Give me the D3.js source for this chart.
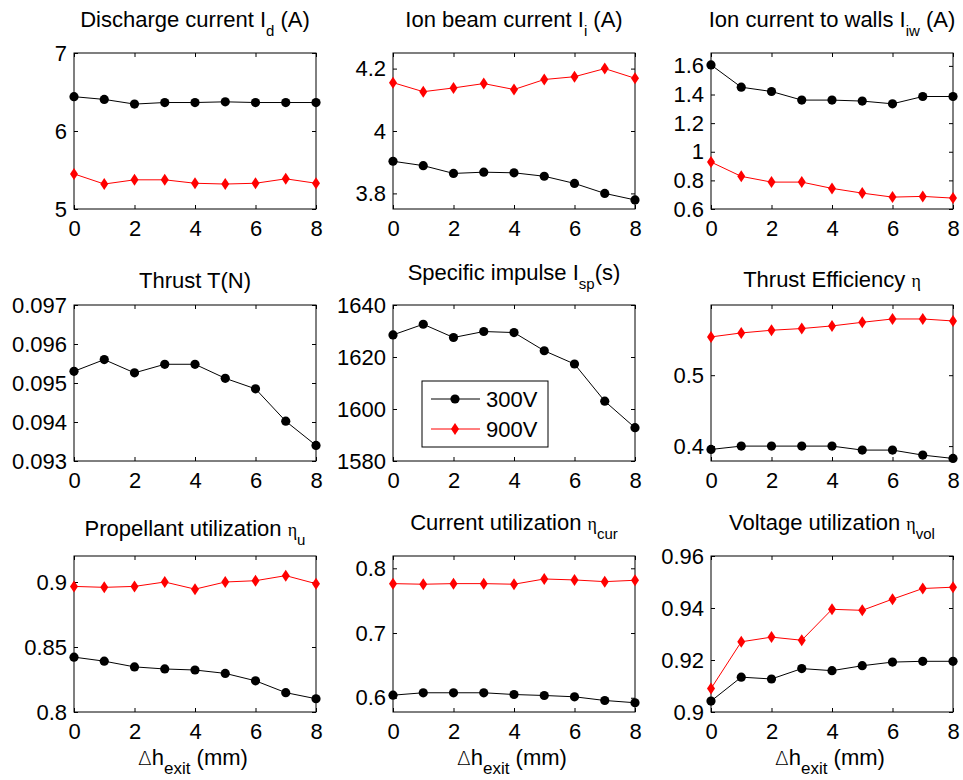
<!DOCTYPE html>
<html>
<head>
<meta charset="utf-8">
<script src="https://cdn.jsdelivr.net/npm/d3@7"></script>
<style>
  body { margin: 0; background: #fff; }
  svg text { font-family: "Liberation Sans", Arial, sans-serif; fill: #000; }
</style>
</head>
<body>
<svg id="chart" width="963" height="780"></svg>
<script>
// Exit-height offset (mm) shared by every panel
const dh = [0, 1, 2, 3, 4, 5, 6, 7, 8];
const xTicks = [0, 2, 4, 6, 8];
const seriesNames = ["300V", "900V"];

const dischargeCurrent300 = [6.44, 6.405, 6.345, 6.365, 6.365, 6.374, 6.365, 6.365, 6.365];
const dischargeCurrent900 = [5.45, 5.32, 5.374, 5.374, 5.33, 5.32, 5.33, 5.387, 5.33];
const dischargeTicks = [5, 6, 7];

const beamCurrent300 = [3.903, 3.889, 3.864, 3.868, 3.866, 3.855, 3.832, 3.800, 3.779];
const beamCurrent900 = [4.155, 4.126, 4.138, 4.152, 4.133, 4.165, 4.174, 4.200, 4.169];
const beamTicks = [3.8, 4, 4.2];

const wallCurrent300 = [1.607, 1.451, 1.421, 1.361, 1.361, 1.354, 1.335, 1.386, 1.386];
const wallCurrent900 = [0.928, 0.828, 0.788, 0.788, 0.744, 0.711, 0.683, 0.688, 0.676];
const wallTicks = [0.6, 0.8, 1, 1.2, 1.4, 1.6];

const thrust300 = [0.09530, 0.09560, 0.09526, 0.09548, 0.09548, 0.09512, 0.09485, 0.09402, 0.09340];
const thrustTicks = [0.093, 0.094, 0.095, 0.096, 0.097];

const isp300 = [1628.5, 1632.6, 1627.5, 1629.8, 1629.4, 1622.4, 1617.3, 1603.0, 1592.8];
const ispTicks = [1580, 1600, 1620, 1640];

const efficiency300 = [0.3953, 0.400, 0.400, 0.400, 0.400, 0.3944, 0.3944, 0.3873, 0.3826];
const efficiency900 = [0.554, 0.5596, 0.5634, 0.5658, 0.5695, 0.5746, 0.5793, 0.5793, 0.5765];
const efficiencyTicks = [0.4, 0.5];

const propellant300 = [0.8422, 0.8391, 0.8347, 0.8331, 0.8323, 0.8297, 0.8240, 0.8149, 0.8102];
const propellant900 = [0.8966, 0.8959, 0.8966, 0.900, 0.8945, 0.900, 0.901, 0.9049, 0.8987];
const propellantTicks = [0.8, 0.85, 0.9];

const currentUtil300 = [0.604, 0.6077, 0.6077, 0.6077, 0.605, 0.6035, 0.6015, 0.5958, 0.5923];
const currentUtil900 = [0.7763, 0.7754, 0.7763, 0.7763, 0.7754, 0.7835, 0.782, 0.7794, 0.7815];
const currentUtilTicks = [0.6, 0.7, 0.8];

const voltageUtil300 = [0.9042, 0.9134, 0.9127, 0.9167, 0.9159, 0.9178, 0.9192, 0.9195, 0.9195];
const voltageUtil900 = [0.909, 0.927, 0.9288, 0.9276, 0.9395, 0.9391, 0.9434, 0.9475, 0.948];
const voltageUtilTicks = [0.9, 0.92, 0.94, 0.96];

// Panel definitions: title pieces, y range, data
const panels = [
  { title: [["Discharge current I"], ["d", "sub"], [" (A)"]], yDomain: [5, 7], ticks: dischargeTicks, s300: dischargeCurrent300, s900: dischargeCurrent900 },
  { title: [["Ion beam current I"], ["i", "sub"], [" (A)"]], yDomain: [3.75, 4.25], ticks: beamTicks, s300: beamCurrent300, s900: beamCurrent900 },
  { title: [["Ion current to walls I"], ["iw", "sub"], [" (A)"]], yDomain: [0.6, 1.69], ticks: wallTicks, s300: wallCurrent300, s900: wallCurrent900 },
  { title: [["Thrust T(N)"]], yDomain: [0.093, 0.097], ticks: thrustTicks, s300: thrust300, s900: null },
  { title: [["Specific impulse I"], ["sp", "sub"], ["(s)"]], yDomain: [1580, 1640], ticks: ispTicks, s300: isp300, s900: null, legend: true },
  { title: [["Thrust Efficiency "], ["\u03b7", "greek"]], yDomain: [0.379, 0.599], ticks: efficiencyTicks, s300: efficiency300, s900: efficiency900 },
  { title: [["Propellant utilization "], ["\u03b7", "greek"], ["u", "sub"]], yDomain: [0.8, 0.92], ticks: propellantTicks, s300: propellant300, s900: propellant900, xLabel: true },
  { title: [["Current utilization "], ["\u03b7", "greek"], ["cur", "sub"]], yDomain: [0.578, 0.819], ticks: currentUtilTicks, s300: currentUtil300, s900: currentUtil900, xLabel: true },
  { title: [["Voltage utilization "], ["\u03b7", "greek"], ["vol", "sub"]], yDomain: [0.9, 0.96], ticks: voltageUtilTicks, s300: voltageUtil300, s900: voltageUtil900, xLabel: true }
];

// Grid geometry
const colLeft = [74, 393, 711];
const rowTop = [53, 305, 556];
const plotW = 242, plotH = 156;
const titleGap = [26.5, 26, 26.5, 17.5, 25, 18, 20.5, 26, 26];
const fontSize = 22;

const svg = d3.select("#chart");

function richText(textSel, parts, subSize) {
  let shift = 0;
  parts.forEach(([txt, kind]) => {
    const t = textSel.append("tspan").text(txt);
    let target = 0;
    if (kind === "sub") { t.attr("font-size", subSize); target = 9; }
    else if (kind === "greek") { t.attr("font-size", 18).attr("font-family", "'Liberation Serif', serif"); }
    else if (kind === "delta") { t.attr("font-size", 20).attr("font-family", "'DejaVu Sans', sans-serif").attr("font-weight", 200); }
    if (target !== shift) { t.attr("dy", target - shift); shift = target; }
  });
}

const black = "#000", red = "#ff0000";
const diamond = "M0,-6L4,0L0,6L-4,0Z";

panels.forEach((p, i) => {
  const r = Math.floor(i / 3), c = i % 3;
  const g = svg.append("g").attr("transform", `translate(${colLeft[c]},${rowTop[r]})`);

  const x = d3.scaleLinear().domain([0, 8]).range([0, plotW]);
  const y = d3.scaleLinear().domain(p.yDomain).range([plotH, 0]);

  // frame
  g.append("rect").attr("width", plotW).attr("height", plotH)
    .attr("fill", "#fff").attr("stroke", black).attr("stroke-width", 1);

  const fmt = d3.format("~g");
  const axB = g.append("g").attr("transform", `translate(0,${plotH})`)
    .call(d3.axisBottom(x).tickValues(xTicks).tickFormat(fmt).tickSizeInner(-4).tickSizeOuter(0).tickPadding(11));
  const axT = g.append("g")
    .call(d3.axisTop(x).tickValues(xTicks).tickFormat("").tickSizeInner(-4).tickSizeOuter(0));
  const axL = g.append("g")
    .call(d3.axisLeft(y).tickValues(p.ticks).tickFormat(fmt).tickSizeInner(-4).tickSizeOuter(0).tickPadding(7));
  const axR = g.append("g").attr("transform", `translate(${plotW},0)`)
    .call(d3.axisRight(y).tickValues(p.ticks).tickFormat("").tickSizeInner(-4).tickSizeOuter(0));
  [axB, axT, axL, axR].forEach(a => {
    a.select(".domain").remove();
    a.selectAll("line").attr("stroke", black);
    a.selectAll("text").attr("font-size", fontSize).attr("font-family", null).attr("fill", black);
  });

  const line = d3.line().x((d, k) => x(dh[k])).y(d => y(d));
  const drawSeries = (vals, color, marker) => {
    if (!vals) return;
    g.append("path").datum(vals).attr("d", line)
      .attr("fill", "none").attr("stroke", color).attr("stroke-width", 1);
    const m = g.append("g").selectAll("g").data(vals).join("g")
      .attr("transform", (d, k) => `translate(${x(dh[k])},${y(d)})`);
    if (marker === "circle") m.append("circle").attr("r", 4.6).attr("fill", color);
    else m.append("path").attr("d", diamond).attr("fill", color);
  };
  drawSeries(p.s300, black, "circle");
  drawSeries(p.s900, red, "diamond");

  // title
  const title = g.append("text").attr("x", plotW / 2).attr("y", -titleGap[i])
    .attr("text-anchor", "middle").attr("font-size", fontSize);
  richText(title, p.title, 15);

  if (p.xLabel) {
    const xl = g.append("text").attr("x", plotW / 2 - 2).attr("y", plotH + 53)
      .attr("text-anchor", "middle").attr("font-size", fontSize);
    richText(xl, [["\u0394", "delta"], ["h"], ["exit", "sub"], [" (mm)"]], 17);
  }

  if (p.legend) {
    const lg = g.append("g").attr("transform", "translate(29,76)");
    lg.append("rect").attr("width", 126).attr("height", 66)
      .attr("fill", "#fff").attr("stroke", black).attr("stroke-width", 1);
    const entries = [
      { name: seriesNames[0], color: black, marker: "circle", y: 18 },
      { name: seriesNames[1], color: red, marker: "diamond", y: 48 }
    ];
    entries.forEach(e => {
      lg.append("line").attr("x1", 9).attr("x2", 58).attr("y1", e.y).attr("y2", e.y)
        .attr("stroke", e.color).attr("stroke-width", 1);
      if (e.marker === "circle") lg.append("circle").attr("cx", 33).attr("cy", e.y).attr("r", 4.6).attr("fill", e.color);
      else lg.append("path").attr("d", diamond).attr("transform", `translate(33,${e.y})`).attr("fill", e.color);
      lg.append("text").attr("x", 64).attr("y", e.y).attr("dy", "0.35em")
        .attr("font-size", fontSize).text(e.name);
    });
  }
});
</script>
</body>
</html>
